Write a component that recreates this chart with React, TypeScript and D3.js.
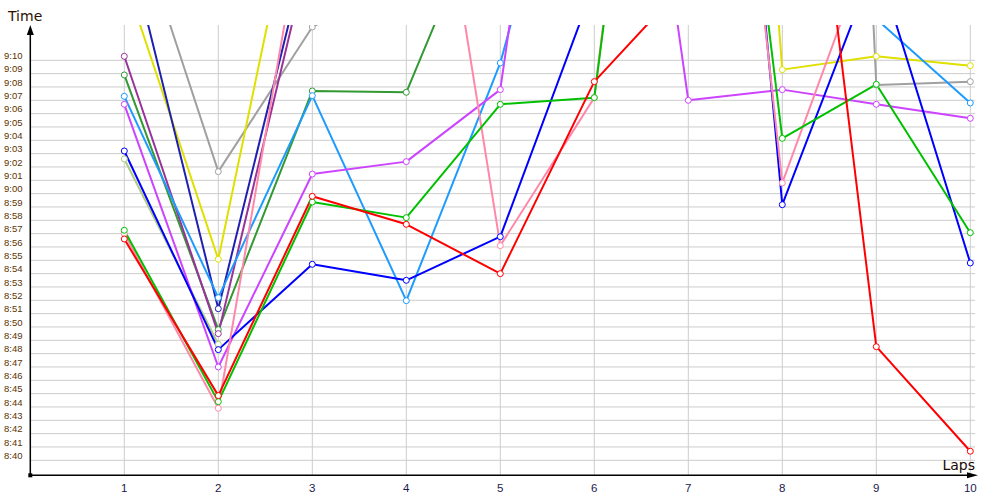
import React from 'react';
import * as d3 from 'd3';

// lap times as minutes after 8:00 (values above 70 run off the top of the chart)
const laps = [1, 2, 3, 4, 5, 6, 7, 8, 9, 10];
const yTicks = d3.range(40, 71);

const redTimes = [56.6, 44.85, 59.8, 57.7, 54.0, 68.4, 76, 106.4, 48.52, 40.68];
const greenTimes = [57.25, 44.4, 59.37, 58.2, 66.7, 67.2, 122, 64.15, 68.2, 57.07];
const pinkTimes = [57.0, 43.9, 84.8, 100.3, 56.1, 67.2, 125, 60.8, 80.1];
const violetTimes = [66.7, 47.0, 61.47, 62.4, 67.8, 117, 67.0, 67.8, 66.7, 65.65];
const blueTimes = [63.2, 48.3, 54.7, 53.5, 56.77, 75.7, 135, 59.17, 77.5, 54.8];
const skyTimes = [67.3, 52.2, 67.35, 51.97, 69.8, 95.8, 110, 100, 73.1, 66.8];
const yellowTimes = [76.2, 55.08, 88.8, 105, 130, 150, 160, 69.3, 70.3, 69.6];
const grayTimes = [83.1, 61.65, 72.5, 76, 110, 140, 180, 220, 68.15, 68.4];
const darkGreenTimes = [68.9, 49.8, 67.7, 67.6, 84.5];
const plumTimes = [70.3, 49.5, 79.1];
const navyTimes = [79.9, 51.37, 79.9];
const oliveTimes = [62.6, 48.7];

const series = [
  { color: '#a0a0a0', values: grayTimes },
  { color: '#e0e000', values: yellowTimes },
  { color: '#b0cc80', values: oliveTimes },
  { color: '#2020b0', values: navyTimes },
  { color: '#339933', values: darkGreenTimes },
  { color: '#993399', values: plumTimes },
  { color: '#1e9bff', values: skyTimes },
  { color: '#cc44ff', values: violetTimes },
  { color: '#0000ff', values: blueTimes },
  { color: '#ff88aa', values: pinkTimes },
  { color: '#00c000', values: greenTimes },
  { color: '#ff0000', values: redTimes },
];

const fmt = (m: number) => `${8 + Math.floor(m / 60)}:${String(m % 60).padStart(2, '0')}`;

export default function App() {
  const width = 1000;
  const height = 500;
  const left = 30.3;
  const top = 25;
  const right = 975;
  const bottom = 475.3;

  const x = d3.scaleLinear().domain([0, 10]).range([30.3, 970.3]);
  const y = d3.scaleLinear().domain([40, 70]).range([460.3, 60.3]);

  const line = d3
    .line<number>()
    .x((_, i) => x(laps[i]))
    .y((d) => y(d));

  return (
    <svg
      width={width}
      height={height}
      style={{ position: 'absolute', left: 0, top: 0, background: '#fff' }}
    >
      <defs>
        <clipPath id="plot">
          <rect x={left} y={top} width={right - left} height={bottom - top} />
        </clipPath>
      </defs>

      {/* grid */}
      <g stroke="#cccccc" strokeWidth={1}>
        {yTicks.map((t) => (
          <line key={'h' + t} x1={left} x2={right} y1={y(t)} y2={y(t)} />
        ))}
        {laps.map((l) => (
          <line key={'v' + l} x1={x(l)} x2={x(l)} y1={top} y2={bottom} />
        ))}
      </g>

      {/* y tick labels */}
      <g fontFamily="Liberation Sans, Arial, sans-serif" fontSize={9.5} fill="#5c3300">
        {yTicks.map((t) => (
          <text key={'yl' + t} x={4} y={y(t) - 1.3}>
            {fmt(t)}
          </text>
        ))}
      </g>

      {/* x tick labels */}
      <g fontFamily="Liberation Sans, Arial, sans-serif" fontSize={11.5} fill="#1a1a50" textAnchor="middle">
        {laps.map((l) => (
          <text key={'xl' + l} x={x(l)} y={491.5}>
            {l}
          </text>
        ))}
      </g>

      {/* series */}
      <g clipPath="url(#plot)">
        {series.map((s, si) => (
          <path
            key={'p' + si}
            d={line(s.values) || ''}
            fill="none"
            stroke={s.color}
            strokeWidth={2}
            strokeLinejoin="round"
          />
        ))}
        {series.map((s, si) =>
          s.values.map((v, i) => (
            <circle
              key={'c' + si + '-' + i}
              cx={x(laps[i])}
              cy={y(v)}
              r={3}
              fill="#fff"
              stroke={s.color}
              strokeWidth={1}
            />
          ))
        )}
      </g>

      {/* axes */}
      <line x1={left} x2={left} y1={bottom} y2={30} stroke="#000" strokeWidth={1.5} />
      <line x1={left} x2={972} y1={bottom} y2={bottom} stroke="#000" strokeWidth={1.5} />
      <path d={`M${left},25 L${left - 3.5},35 L${left + 3.5},35 Z`} fill="#000" />
      <path d={`M978,${bottom} L967,${bottom - 3} L967,${bottom + 3} Z`} fill="#000" />
      <rect x={left - 2} y={bottom - 2} width={4} height={4} fill="#000" />

      <text x={8} y={21} fontFamily="DejaVu Sans, sans-serif" fontSize={14} fill="#2a1000">
        Time
      </text>
      <text x={975} y={470} fontFamily="DejaVu Sans, sans-serif" fontSize={14} fill="#1a0a00" textAnchor="end">
        Laps
      </text>
    </svg>
  );
}
